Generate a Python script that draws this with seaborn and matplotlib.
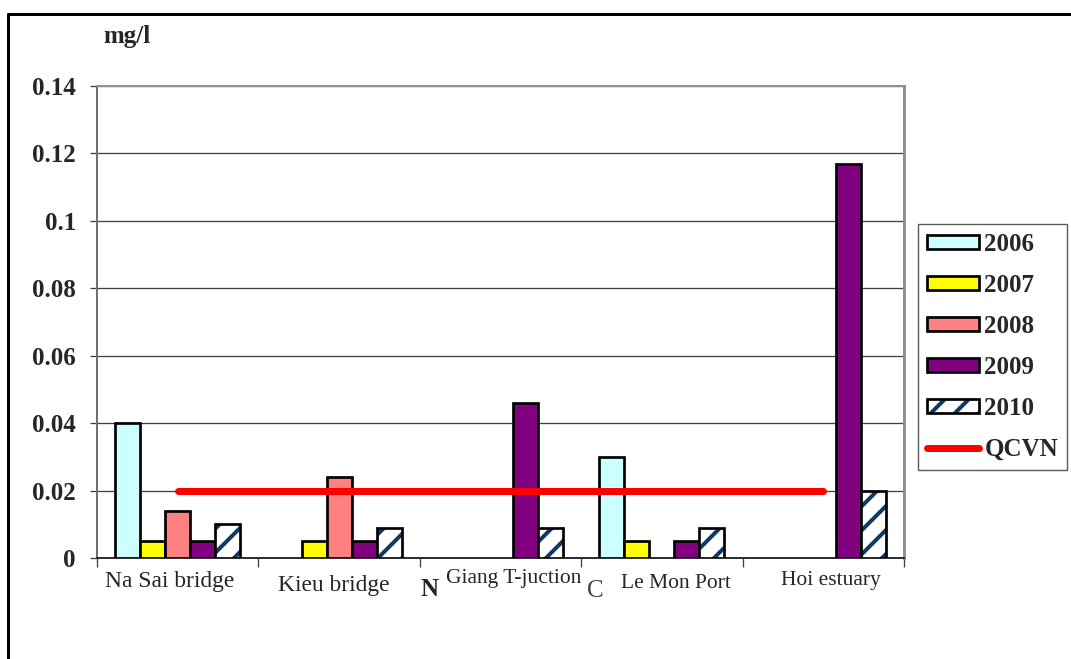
import numpy as np
import pandas as pd
import matplotlib
matplotlib.use("Agg")
import matplotlib.pyplot as plt
from matplotlib.patches import Patch, Rectangle
from matplotlib.lines import Line2D
import seaborn as sns

# ---- data (mg/l) ----
categories = ["Na Sai bridge", "Kieu bridge", "Giang T-juction", "Le Mon Port", "Hoi estuary"]
years = ["2006", "2007", "2008", "2009", "2010"]
v2006 = [0.040, np.nan, np.nan, 0.030, np.nan]
v2007 = [0.005, 0.005, np.nan, 0.005, np.nan]
v2008 = [0.014, 0.024, np.nan, np.nan, np.nan]
v2009 = [0.005, 0.005, 0.046, 0.005, 0.117]
v2010 = [0.010, 0.009, 0.009, 0.009, 0.020]
qcvn = [0.02, 0.02, 0.02, 0.02, 0.02]
yticks = [0, 0.02, 0.04, 0.06, 0.08, 0.10, 0.12, 0.14]
ytick_labels = ["0", "0.02", "0.04", "0.06", "0.08", "0.1", "0.12", "0.14"]

colors = {"2006": "#CCFFFF", "2007": "#FFFF00", "2008": "#FF8080",
          "2009": "#800080", "2010": "#FFFFFF"}
hatch_color = "#0F3A66"

series = {"2006": v2006, "2007": v2007, "2008": v2008, "2009": v2009, "2010": v2010}
rows = []
for yr in years:
    for cat, val in zip(categories, series[yr]):
        rows.append({"site": cat, "year": yr, "value": val})
df = pd.DataFrame(rows).dropna()

# 72 dpi: one point is one pixel, so every size below is in pixels
DPI = 72
W, H = 1071, 659

sns.set_style("white")
plt.rcParams["font.family"] = ["Liberation Serif", "DejaVu Serif"]
plt.rcParams["hatch.linewidth"] = 4.0

fig = plt.figure(figsize=(W / DPI, H / DPI), dpi=DPI)
ax = fig.add_axes([97 / W, 1 - 558 / H, 807 / W, 472 / H])

sns.barplot(data=df, x="site", y="value", hue="year", order=categories,
            hue_order=years, palette=colors, saturation=1, width=0.774,
            edgecolor="black", linewidth=2.7, errorbar=None, legend=False,
            ax=ax, zorder=3)

# hatched 2010 bars: stripes drawn in the edge colour, outline added on top
for container, yr in zip(ax.containers, years):
    if yr != "2010":
        continue
    for bar in container:
        bar.set_hatch("/")
        bar.set_edgecolor(hatch_color)
        bar.set_linewidth(0)
        ax.add_patch(Rectangle(bar.get_xy(), bar.get_width(), bar.get_height(),
                               fill=False, edgecolor="black", linewidth=2.7, zorder=4))

# QCVN limit line
sns.lineplot(x=np.arange(len(categories)), y=qcvn, color="#FF0000", linewidth=7,
             ax=ax, zorder=5, solid_capstyle="round")

ax.set_xlim(-0.5, len(categories) - 0.5)
ax.set_ylim(0, 0.14)
ax.set_yticks(yticks)
ax.set_yticklabels(ytick_labels, fontsize=25, fontweight="bold")
ax.tick_params(axis="y", direction="out", length=7, width=1.3, color="#404040", pad=14, left=True)
ax.yaxis.grid(True, color="#404040", linewidth=1.3, zorder=0)
ax.set_axisbelow(True)
ax.set_xlabel("")
ax.set_ylabel("")

# category boundaries as x ticks, labels placed individually
ax.set_xticks(np.arange(-0.5, len(categories)), minor=True)
ax.set_xticks(np.arange(len(categories)))
ax.set_xticklabels([])
ax.tick_params(axis="x", which="major", length=0)
ax.tick_params(axis="x", which="minor", direction="out", length=9, width=1.3,
               color="#404040", bottom=True)

label_specs = [  # (dx in data units, px below axis, fontsize)
    (-0.05, 24, 23.5), (-0.03, 27, 23.5), (0.08, 21, 21.5), (0.09, 25, 21.5), (0.05, 23, 21.5)]
for i, (cat, (dx, dy, fs)) in enumerate(zip(categories, label_specs)):
    ax.annotate(cat, xy=(i + dx, 0), xycoords=("data", "axes fraction"),
                xytext=(0, -dy), textcoords="offset points",
                ha="center", va="center", fontsize=fs)

fig.text(430 / W, 1 - 590 / H, "N", fontsize=25, fontweight="bold", ha="center", va="center")
fig.text(595 / W, 1 - 591 / H, "C", fontsize=25, ha="center", va="center", color="#444444")

for side, col, lw in [("left", "#707070", 2), ("right", "#909090", 3),
                      ("top", "#909090", 2), ("bottom", "#303030", 2)]:
    ax.spines[side].set_visible(True)
    ax.spines[side].set_color(col)
    ax.spines[side].set_linewidth(lw)

fig.text(127 / W, 1 - 37 / H, "mg/l", fontsize=25, fontweight="bold", ha="center", va="center")

# legend
handles = []
for yr in years:
    if yr == "2010":
        handles.append((Patch(facecolor="white", edgecolor=hatch_color, hatch="/", linewidth=0),
                        Patch(facecolor="none", edgecolor="black", linewidth=2.7)))
    else:
        handles.append(Patch(facecolor=colors[yr], edgecolor="black", linewidth=2.7))
handles.append(Line2D([], [], color="#FF0000", linewidth=7, solid_capstyle="round"))
labels = years + ["QCVN"]
leg = fig.legend(handles, labels, loc="upper left",
                 bbox_to_anchor=(918 / W, 1 - 224 / H),
                 prop={"size": 25, "weight": "bold"}, frameon=True, fancybox=False,
                 handlelength=2.1, handleheight=0.5, handletextpad=0.2,
                 labelspacing=0.72, borderpad=0.35, borderaxespad=0)
leg.get_frame().set_edgecolor("#333333")
leg.get_frame().set_linewidth(1.4)

# outer frame (top and left edges)
fig.add_artist(Line2D([8 / W, 1], [1 - 14 / H, 1 - 14 / H], color="black",
                      linewidth=3, transform=fig.transFigure))
fig.add_artist(Line2D([8 / W, 8 / W], [0, 1 - 14 / H], color="black",
                      linewidth=3, transform=fig.transFigure))

fig.savefig("out.png", dpi=DPI, facecolor="white")
